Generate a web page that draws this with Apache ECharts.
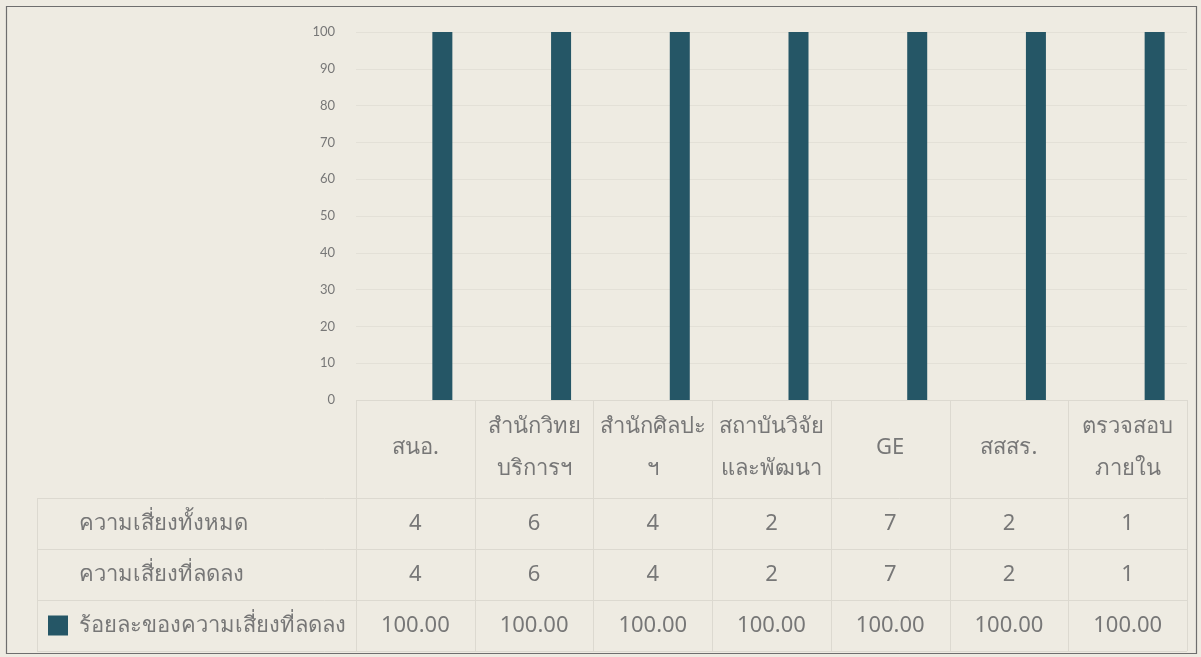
<!DOCTYPE html>
<html>
<head>
<meta charset="utf-8">
<script src="https://cdn.jsdelivr.net/npm/echarts@6/dist/echarts.min.js"></script>
<style>
  html, body { margin: 0; padding: 0; background: #ffffff; }
  #chart { width: 1201px; height: 657px; }
</style>
</head>
<body>
<div id="chart"></div>
<script>
// ---- data ----
const categories = ['สนอ.', 'สำนักวิทย\nบริการฯ', 'สำนักศิลปะ\nฯ', 'สถาบันวิจัย\nและพัฒนา', 'GE', 'สสสร.', 'ตรวจสอบ\nภายใน'];
const seriesNames = ['ความเสี่ยงทั้งหมด', 'ความเสี่ยงที่ลดลง', 'ร้อยละของความเสี่ยงที่ลดลง'];
const totalRisks = [4, 6, 4, 2, 7, 2, 1];
const reducedRisks = [4, 6, 4, 2, 7, 2, 1];
const percentReduced = [100, 100, 100, 100, 100, 100, 100];
const yTicks = { min: 0, max: 100, interval: 10 };

const BG = '#eeebe2';
const TEXT = '#777777';
const LINE = '#dcd9d0';
const BAR = '#255666';
const FONT = '"Noto Sans", "DejaVu Sans", sans-serif';

const chart = echarts.init(document.getElementById('chart'), null, { renderer: 'canvas' });

const option = {
  backgroundColor: BG,
  animation: false,
  grid: { left: 356, right: 14, top: 32, bottom: 257, containLabel: false },
  xAxis: {
    type: 'category',
    data: categories,
    axisLine: { show: false },
    axisTick: { show: false },
    axisLabel: {
      margin: 48,
      verticalAlign: 'middle',
      lineHeight: 42,
      fontSize: 22,
      color: TEXT,
      fontFamily: FONT,
      interval: 0
    }
  },
  yAxis: {
    type: 'value',
    min: yTicks.min, max: yTicks.max, interval: yTicks.interval,
    axisLine: { show: false },
    axisTick: { show: false },
    axisLabel: { margin: 21, fontSize: 13, color: TEXT, fontFamily: 'Lato, "DejaVu Sans", sans-serif' },
    splitLine: { lineStyle: { color: '#e3e0d7', width: 1 } }
  },
  series: [
    { name: seriesNames[0], type: 'bar', data: totalRisks, barWidth: 20, barGap: '35%', itemStyle: { color: 'rgba(0,0,0,0)' }, silent: true },
    { name: seriesNames[1], type: 'bar', data: reducedRisks, barWidth: 20, barGap: '35%', itemStyle: { color: 'rgba(0,0,0,0)' }, silent: true },
    { name: seriesNames[2], type: 'bar', data: percentReduced, barWidth: 20, barGap: '35%', itemStyle: { color: BAR } }
  ]
};
chart.setOption(option);

// ---- data table drawn under the axis, aligned with category bands ----
function buildTable() {
  const n = categories.length;
  const c0 = chart.convertToPixel({ xAxisIndex: 0 }, 0);
  const c1 = chart.convertToPixel({ xAxisIndex: 0 }, 1);
  const band = c1 - c0;
  const left = c0 - band / 2;
  const right = left + band * n;
  const y0 = chart.convertToPixel({ yAxisIndex: 0 }, 0);
  const headerTop = y0;
  const headerBottom = headerTop + 98;
  const rowH = 51;
  const tableLeft = 37;
  const rows = [totalRisks, reducedRisks, percentReduced.map(v => v.toFixed(2))];
  const tableBottom = headerBottom + rowH * rows.length;
  const els = [];
  const line = (x1, y1, x2, y2) => els.push({
    type: 'line', silent: true,
    shape: { x1: x1, y1: y1, x2: x2, y2: y2 },
    style: { stroke: LINE, lineWidth: 1 }
  });
  line(left, headerTop + 0.5, right, headerTop + 0.5);
  for (let r = 0; r <= rows.length; r++) {
    const y = Math.round(headerBottom + r * rowH) + 0.5;
    line(tableLeft, y, right, y);
  }
  line(tableLeft + 0.5, headerBottom, tableLeft + 0.5, tableBottom);
  for (let i = 0; i <= n; i++) {
    const x = Math.round(left + i * band) + 0.5;
    line(x, headerTop, x, tableBottom);
  }
  rows.forEach((vals, r) => {
    const cy = headerBottom + r * rowH + rowH / 2;
    els.push({
      type: 'text', silent: true,
      x: 79, y: cy,
      style: { text: seriesNames[r], fill: TEXT, font: '22px ' + FONT, textAlign: 'left', textVerticalAlign: 'middle' }
    });
    vals.forEach((v, i) => {
      els.push({
        type: 'text', silent: true,
        x: c0 + i * band, y: cy,
        style: { text: String(v), fill: TEXT, font: '22px ' + FONT, textAlign: 'center', textVerticalAlign: 'middle' }
      });
    });
  });
  // legend key for the plotted series
  const keyY = headerBottom + 2 * rowH + rowH / 2;
  els.push({ type: 'rect', silent: true, shape: { x: 48, y: keyY - 10, width: 20, height: 20 }, style: { fill: BAR } });
  // outer frame
  els.push({ type: 'rect', silent: true, shape: { x: 6.5, y: 6.5, width: 1190, height: 647 }, style: { fill: 'none', stroke: '#6e6e6e', lineWidth: 1.2 } });
  chart.setOption({ graphic: { elements: els } });
}
buildTable();
</script>
</body>
</html>
